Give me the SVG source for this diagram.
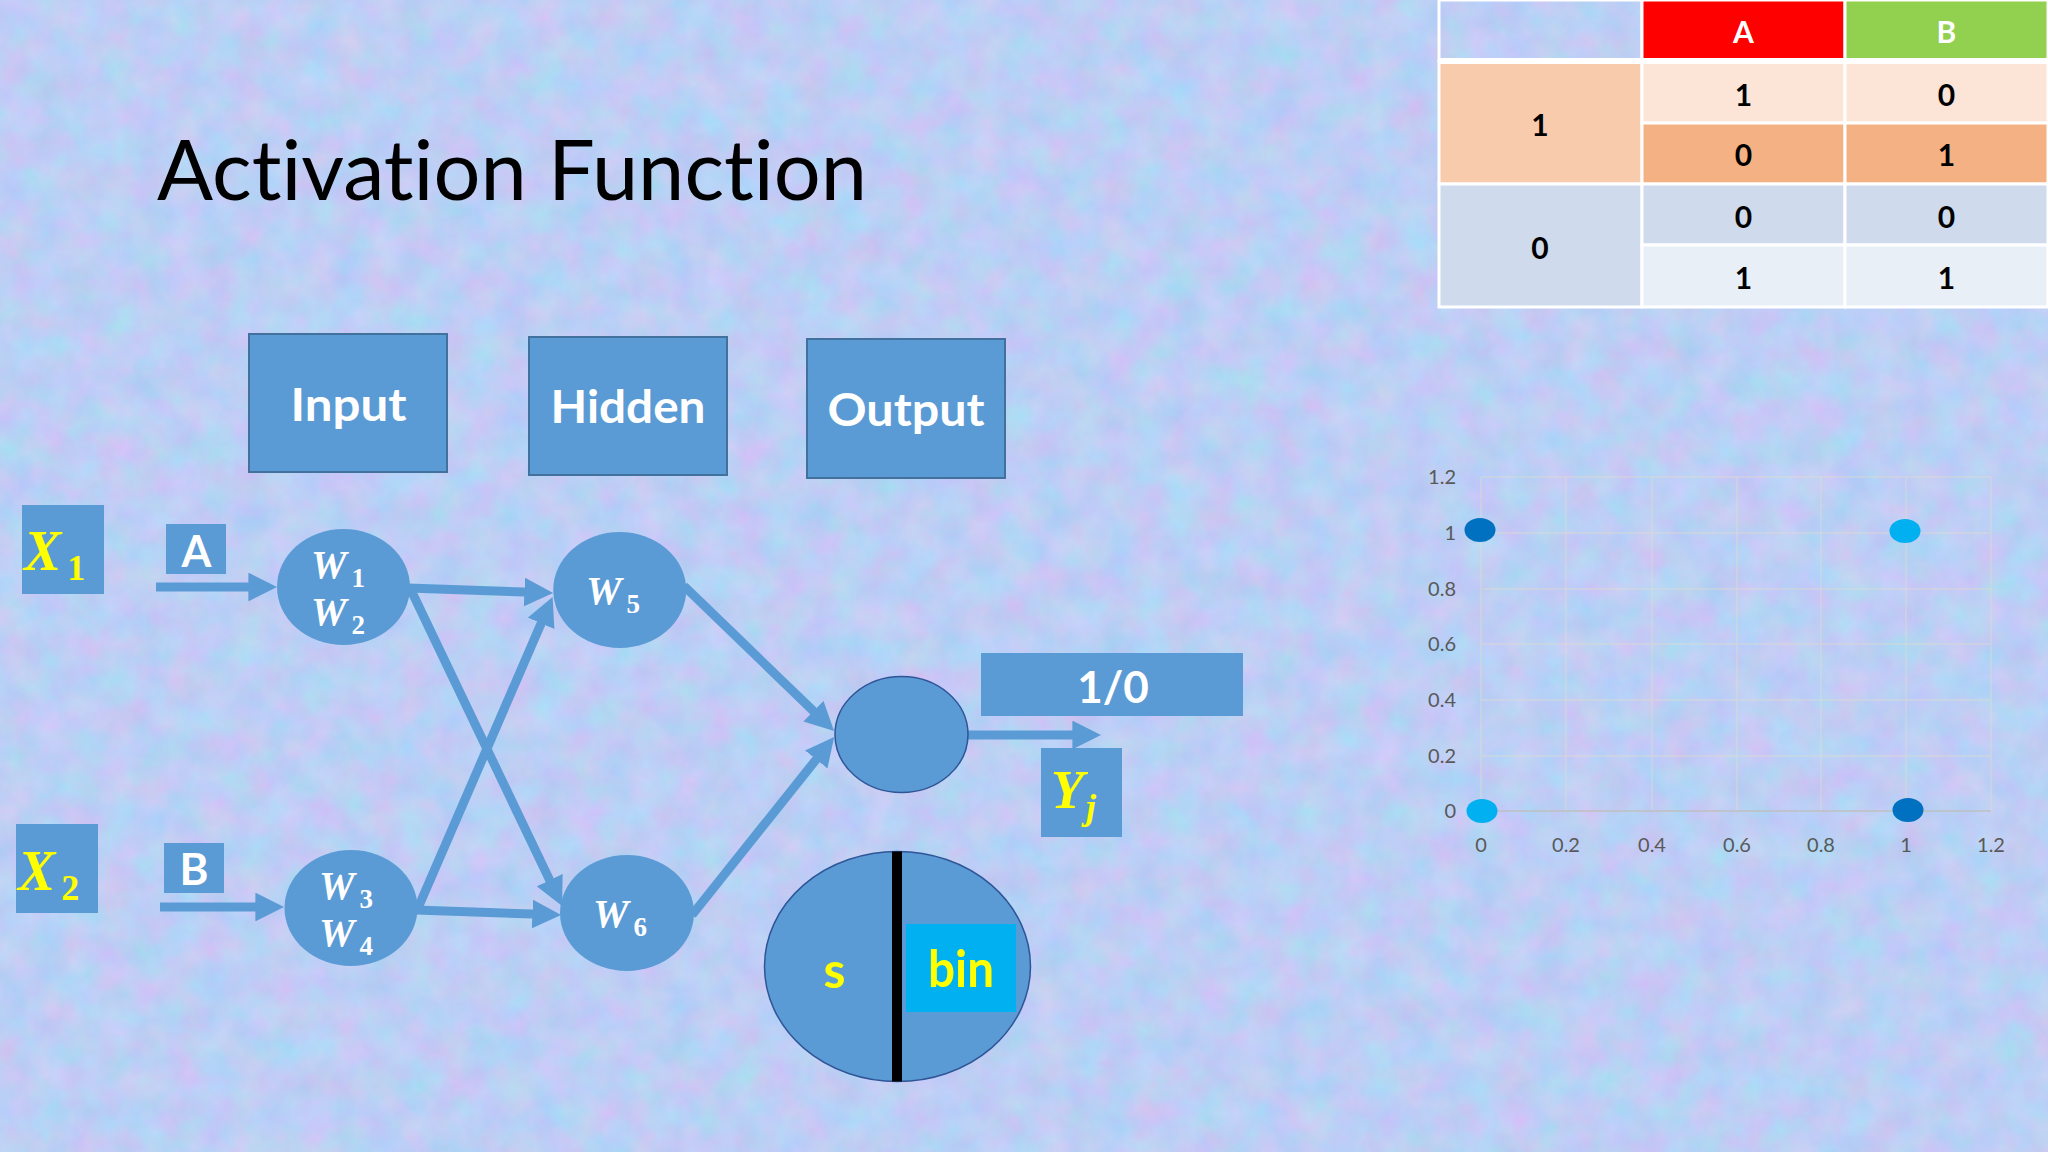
<svg xmlns="http://www.w3.org/2000/svg" width="2048" height="1152" viewBox="0 0 2048 1152">
<defs>
  <filter id="tex" x="0" y="0" width="100%" height="100%" color-interpolation-filters="sRGB">
    <feTurbulence type="fractalNoise" baseFrequency="0.03" numOctaves="4" seed="7" result="n"/>
    <feColorMatrix in="n" type="matrix" values="0.22 0 0 0 0.63  -0.08 0.1 0 0 0.80  0 0 0.06 0 0.93  0 0 0 0 1"/>
  </filter>
  <marker id="ah" viewBox="0 0 10 10" markerWidth="3.2" markerHeight="3.2" refX="3" refY="5" orient="auto" markerUnits="strokeWidth">
    <path d="M0,0 L10,5 L0,10 z" fill="#5B9BD5"/>
  </marker>
  <style>
    text{font-variant-ligatures:none;}
    .box{fill:#5B9BD5;}
    .hdr{fill:#5B9BD5;stroke:#41719C;stroke-width:2;}
    .nd{fill:#5B9BD5;}
    .ndb{fill:#5B9BD5;stroke:#2F5597;stroke-width:1.5;}
    .lbl{font-family:Lato,"Liberation Sans",sans-serif;font-weight:bold;fill:#FFFFFF;text-anchor:middle;}
    .math{font-family:"Liberation Serif","DejaVu Serif",serif;font-style:italic;font-weight:bold;}
    .sub{font-style:normal;}
    .w{fill:#FFFFFF;}
    .y{fill:#FFFF00;}
    .conn{stroke:#5B9BD5;stroke-width:9;fill:none;marker-end:url(#ah);}
    .cell{stroke:#FFFFFF;stroke-width:3;}
    .tt{font-family:Lato,"Liberation Sans",sans-serif;font-weight:bold;font-size:30px;text-anchor:middle;fill:#000000;}
    .ax{font-family:Lato,"Liberation Sans",sans-serif;font-size:20px;fill:#595959;}
    .grid{stroke:#E3DCCB;stroke-width:1;opacity:0.7;}
  </style>
</defs>

<rect x="0" y="0" width="2048" height="1152" fill="#BCD0F2"/>
<rect x="0" y="0" width="2048" height="1152" filter="url(#tex)"/>

<text x="157" y="200" font-family="Lato,'Liberation Sans',sans-serif" font-size="84" fill="#000000" textLength="710" lengthAdjust="spacingAndGlyphs">Activation Function</text>

<g id="input">
  <rect class="hdr" x="249" y="334" width="198" height="138"/>
  <text class="lbl" x="348.5" y="421" font-size="46" textLength="116" lengthAdjust="spacingAndGlyphs">Input</text>
</g>
<g id="hidden">
  <rect class="hdr" x="529" y="337" width="198" height="138"/>
  <text class="lbl" x="628" y="423" font-size="46" textLength="155" lengthAdjust="spacingAndGlyphs">Hidden</text>
</g>
<g id="output">
  <rect class="hdr" x="807" y="339" width="198" height="139"/>
  <text class="lbl" x="906" y="426" font-size="46" textLength="157" lengthAdjust="spacingAndGlyphs">Output</text>
</g>

<g id="x1">
  <rect class="box" x="22" y="505" width="82" height="89"/>
  <text class="math y" x="24" y="570" font-size="56">X<tspan class="sub" font-size="36" dy="10" dx="6">1</tspan></text>
</g>
<g id="x2">
  <rect class="box" x="16" y="824" width="82" height="89"/>
  <text class="math y" x="18" y="890" font-size="56">X<tspan class="sub" font-size="36" dy="10" dx="6">2</tspan></text>
</g>
<g id="a">
  <rect class="box" x="166" y="524" width="60" height="50"/>
  <text class="lbl" x="196.5" y="567" font-size="43">A</text>
</g>
<g id="b">
  <rect class="box" x="164" y="843" width="60" height="50"/>
  <text class="lbl" x="194" y="885" font-size="44">B</text>
</g>

<g id="connectors">
  <line class="conn" x1="156" y1="587" x2="257" y2="587"/>
  <line class="conn" x1="160" y1="907" x2="264" y2="907"/>
  <line class="conn" x1="408" y1="588" x2="533" y2="592.3"/>
  <line class="conn" x1="410" y1="588" x2="553.4" y2="887.9"/>
  <line class="conn" x1="418" y1="908" x2="544.6" y2="615.4"/>
  <line class="conn" x1="416" y1="910" x2="541" y2="914.3"/>
  <line class="conn" x1="684" y1="586" x2="819.6" y2="717.1"/>
  <line class="conn" x1="692" y1="915" x2="821.6" y2="752.7"/>
  <line class="conn" x1="966" y1="735" x2="1081" y2="735"/>
</g>

<g id="w12">
  <ellipse class="nd" cx="343.5" cy="587" rx="66.5" ry="58"/>
  <text class="math w" x="311" y="578" font-size="40">W<tspan class="sub" font-size="27" dy="9" dx="5">1</tspan></text>
  <text class="math w" x="311" y="625" font-size="40">W<tspan class="sub" font-size="27" dy="9" dx="5">2</tspan></text>
</g>
<g id="w34">
  <ellipse class="nd" cx="351" cy="908" rx="66.5" ry="58"/>
  <text class="math w" x="319" y="899" font-size="40">W<tspan class="sub" font-size="27" dy="9" dx="5">3</tspan></text>
  <text class="math w" x="319" y="946" font-size="40">W<tspan class="sub" font-size="27" dy="9" dx="5">4</tspan></text>
</g>
<g id="w5">
  <ellipse class="nd" cx="619.7" cy="590" rx="66.5" ry="58"/>
  <text class="math w" x="586" y="604" font-size="40">W<tspan class="sub" font-size="27" dy="9" dx="5">5</tspan></text>
</g>
<g id="w6">
  <ellipse class="nd" cx="627" cy="913" rx="67" ry="58"/>
  <text class="math w" x="593" y="927" font-size="40">W<tspan class="sub" font-size="27" dy="9" dx="5">6</tspan></text>
</g>

<g id="out">
  <ellipse class="ndb" cx="901.5" cy="734.5" rx="66.5" ry="58"/>
</g>

<g id="onezero">
  <rect class="box" x="981" y="653" width="262" height="63"/>
  <text class="lbl" x="1113" y="703" font-size="44">1/0</text>
</g>
<g id="yj">
  <rect class="box" x="1041" y="748" width="81" height="89"/>
  <text class="math y" x="1051" y="808" font-size="54">Y<tspan font-size="36" dy="11" dx="2">j</tspan></text>
</g>

<g id="sbin">
  <ellipse class="ndb" cx="897.5" cy="966.5" rx="133" ry="115"/>
  <rect x="906" y="924" width="110" height="88" fill="#00B0F0"/>
  <line x1="897" y1="851.5" x2="897" y2="1081.5" stroke="#000000" stroke-width="10"/>
  <text class="lbl" x="834.5" y="988" font-size="50" style="fill:#FFFF00">s</text>
  <text class="lbl" x="961" y="987" font-size="51" style="fill:#FFFF00" textLength="66" lengthAdjust="spacingAndGlyphs">bin</text>
</g>

<g id="table">
  <rect class="cell" x="1439" y="0" width="203" height="61" fill="none"/>
  <rect class="cell" x="1642" y="0" width="203" height="61" fill="#FF0000"/>
  <rect class="cell" x="1845" y="0" width="203" height="61" fill="#92D050"/>
  <rect class="cell" x="1439" y="61" width="203" height="123" fill="#F8CBAD"/>
  <rect class="cell" x="1642" y="61" width="203" height="62" fill="#FCE4D6"/>
  <rect class="cell" x="1845" y="61" width="203" height="62" fill="#FCE4D6"/>
  <rect class="cell" x="1642" y="123" width="203" height="61" fill="#F4B183"/>
  <rect class="cell" x="1845" y="123" width="203" height="61" fill="#F4B183"/>
  <rect class="cell" x="1439" y="184" width="203" height="123" fill="#CFDBEC"/>
  <rect class="cell" x="1642" y="184" width="203" height="61" fill="#CFDBEC"/>
  <rect class="cell" x="1845" y="184" width="203" height="61" fill="#CFDBEC"/>
  <rect class="cell" x="1642" y="245" width="203" height="62" fill="#E9EFF7"/>
  <rect class="cell" x="1845" y="245" width="203" height="62" fill="#E9EFF7"/>
  <line x1="1439" y1="61" x2="2048" y2="61" stroke="#FFFFFF" stroke-width="6"/>
  <text class="tt" x="1743.5" y="43" style="fill:#FFFFFF">A</text>
  <text class="tt" x="1946.5" y="43" style="fill:#FFFFFF">B</text>
  <text class="tt" x="1540" y="136">1</text>
  <text class="tt" x="1743.5" y="106">1</text>
  <text class="tt" x="1946.5" y="106">0</text>
  <text class="tt" x="1743.5" y="166">0</text>
  <text class="tt" x="1946.5" y="166">1</text>
  <text class="tt" x="1540" y="259">0</text>
  <text class="tt" x="1743.5" y="228">0</text>
  <text class="tt" x="1946.5" y="228">0</text>
  <text class="tt" x="1743.5" y="289">1</text>
  <text class="tt" x="1946.5" y="289">1</text>
</g>

<g id="chart">
  <g class="grid">
    <line x1="1481" y1="477" x2="1991" y2="477"/>
    <line x1="1481" y1="533" x2="1991" y2="533"/>
    <line x1="1481" y1="589" x2="1991" y2="589"/>
    <line x1="1481" y1="644" x2="1991" y2="644"/>
    <line x1="1481" y1="700" x2="1991" y2="700"/>
    <line x1="1481" y1="756" x2="1991" y2="756"/>
    <line x1="1481" y1="477" x2="1481" y2="811"/>
    <line x1="1566" y1="477" x2="1566" y2="811"/>
    <line x1="1652" y1="477" x2="1652" y2="811"/>
    <line x1="1737" y1="477" x2="1737" y2="811"/>
    <line x1="1821" y1="477" x2="1821" y2="811"/>
    <line x1="1906" y1="477" x2="1906" y2="811"/>
    <line x1="1991" y1="477" x2="1991" y2="811"/>
  </g>
  <line x1="1481" y1="811" x2="1991" y2="811" stroke="#BFBFBF" stroke-width="1.5"/>
  <g class="ax" text-anchor="end">
    <text x="1456" y="484">1.2</text>
    <text x="1456" y="540">1</text>
    <text x="1456" y="596">0.8</text>
    <text x="1456" y="651">0.6</text>
    <text x="1456" y="707">0.4</text>
    <text x="1456" y="763">0.2</text>
    <text x="1456" y="818">0</text>
  </g>
  <g class="ax" text-anchor="middle">
    <text x="1481" y="852">0</text>
    <text x="1566" y="852">0.2</text>
    <text x="1652" y="852">0.4</text>
    <text x="1737" y="852">0.6</text>
    <text x="1821" y="852">0.8</text>
    <text x="1906" y="852">1</text>
    <text x="1991" y="852">1.2</text>
  </g>
  <ellipse cx="1480" cy="530" rx="15.5" ry="12" fill="#0070C0"/>
  <ellipse cx="1905" cy="531" rx="15.5" ry="12" fill="#00B0F0"/>
  <ellipse cx="1482" cy="811" rx="15.5" ry="12" fill="#00B0F0"/>
  <ellipse cx="1908" cy="810" rx="15.5" ry="12" fill="#0070C0"/>
</g>
</svg>
